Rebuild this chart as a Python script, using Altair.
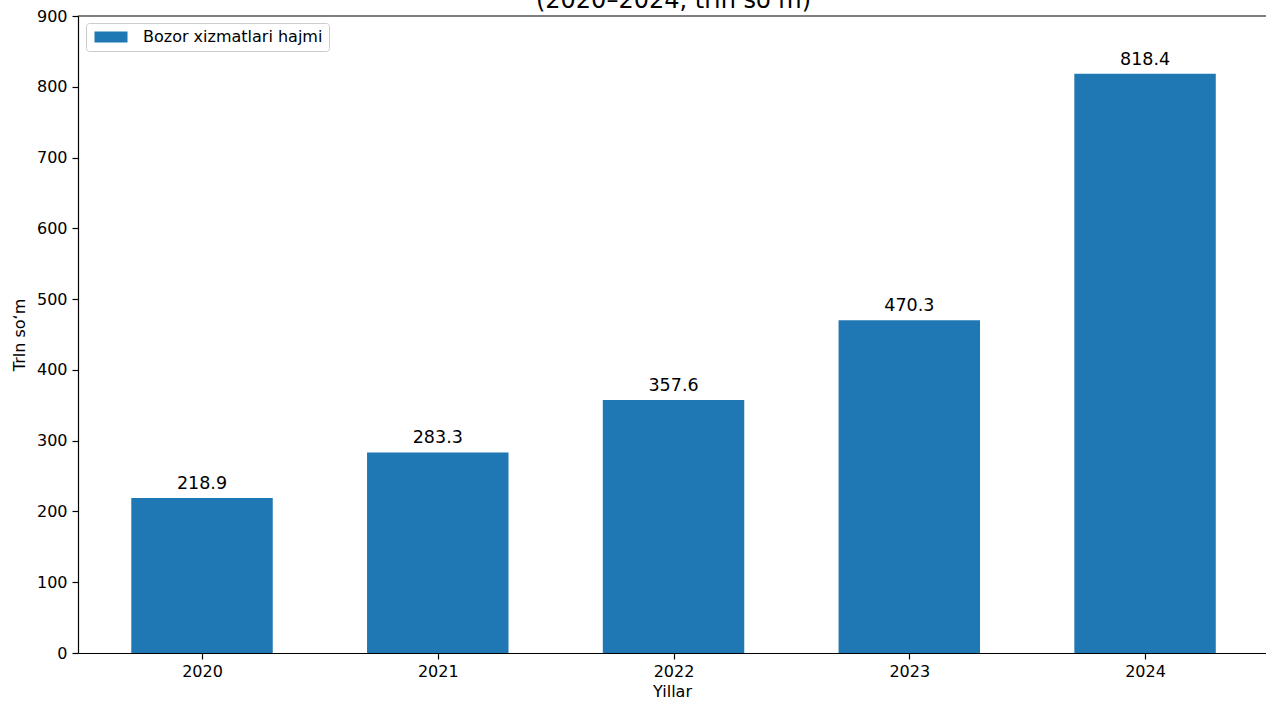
import altair as alt
import pandas as pd

years = [2020, 2021, 2022, 2023, 2024]
values = [218.9, 283.3, 357.6, 470.3, 818.4]
labels = ["218.9", "283.3", "357.6", "470.3", "818.4"]
series_name = "Bozor xizmatlari hajmi"
title_text = "(2020–2024, trln so‘m)"
x_title = "Yillar"
y_title = "Trln so‘m"

df = pd.DataFrame({"year": years, "value": values, "label": labels,
                   "series": [series_name] * len(years)})

W, H = 1188, 637
xscale = alt.Scale(domain=[2019.474, 2024.513], nice=False, zero=False)
yscale = alt.Scale(domain=[0, 900], nice=False)

base = alt.Chart(df)

bars = base.transform_calculate(
    x0="datum.year - 0.3", x1="datum.year + 0.3"
).mark_bar(color="#1f77b4").encode(
    x=alt.X("x0:Q", scale=xscale, title=x_title,
            axis=alt.Axis(values=years, format="d", tickSize=6, labelFontSize=16,
                          labelPadding=4, titleFontSize=16, titleFontWeight="normal",
                          titlePadding=4, domainColor="#000", tickColor="#000",
                          labelColor="#000", titleColor="#000", grid=False,
                          domainWidth=1.2, tickWidth=1.2, labelFlush=False)),
    x2="x1:Q",
    y=alt.Y("value:Q", scale=yscale, title=y_title,
            axis=alt.Axis(values=list(range(0, 1000, 100)), tickSize=6, labelFontSize=16,
                          labelPadding=5, titleFontSize=16, titleFontWeight="normal",
                          titlePadding=9, domainColor="#000", tickColor="#000",
                          labelColor="#000", titleColor="#000", grid=False,
                          domainWidth=1.2, tickWidth=1.2)),
    y2=alt.datum(0),
    color=alt.Color("series:N", scale=alt.Scale(range=["#1f77b4"]),
                    legend=alt.Legend(title=None, orient="none", legendX=8, legendY=7,
                                      symbolType="M-1,-1H5V1H-1Z", symbolSize=121,
                                      symbolStrokeWidth=0, labelFontSize=16,
                                      labelOffset=35, labelColor="#000", labelLimit=0,
                                      fillColor="white", strokeColor="#cccccc",
                                      cornerRadius=3, padding=6)),
)

texts = base.mark_text(baseline="alphabetic", dy=-9, fontSize=17.5, color="#000").encode(
    x=alt.X("year:Q", scale=xscale),
    y=alt.Y("value:Q", scale=yscale),
    text="label:N",
)

top_spine = alt.Chart(pd.DataFrame({"t": [title_text]})).mark_rule(
    color="#000", strokeWidth=1.2).encode(
    x=alt.value(0), x2=alt.value(W), y=alt.value(0))

title = alt.Chart(pd.DataFrame({"t": [title_text]})).mark_text(
    fontSize=24, baseline="alphabetic", align="center", color="#000").encode(
    x=alt.value(595.5), y=alt.value(-8), text="t:N")

chart = alt.layer(bars, texts, top_spine, title).properties(
    width=W, height=H,
    autosize=alt.AutoSizeParams(type="none"),
    padding={"left": 78, "top": 16, "right": 0, "bottom": 49},
).configure(font="DejaVu Sans").configure_view(stroke=None)

chart.save("out.html", embed_options={"renderer": "svg", "actions": False})
